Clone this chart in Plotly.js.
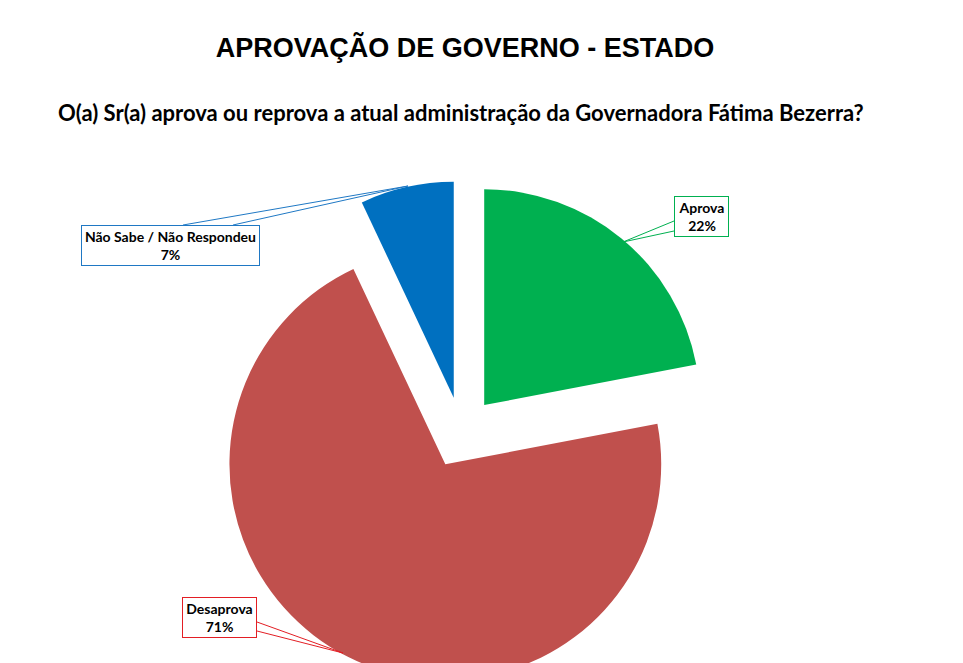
<!DOCTYPE html>
<html>
<head>
<meta charset="utf-8">
<script src="https://cdn.plot.ly/plotly-3.0.1.min.js"></script>
<style>
    html, body { margin: 0; padding: 0; overflow: hidden; background: #fff; }
    #chart { width: 963px; height: 720px; }
</style>
</head>
<body>
<div id="chart"></div>
<script>
// chart data
const categories = ['Aprova', 'Desaprova', 'Não Sabe / Não Respondeu'];
const percentages = [22, 71, 7];

const chartTitle = 'APROVAÇÃO DE GOVERNO - ESTADO';
const chartQuestion = 'O(a) Sr(a) aprova ou reprova a atual administração da Governadora Fátima Bezerra?';

// styling
const W = 963, H = 720;
const sliceColors = ['#00B050', '#C0504D', '#0070C0'];
const calloutColors = ['#00B050', '#E31E24', '#1F78C4'];

// callout geometry in page pixels: box [x0, y0, x1, y1], wedge base points and tip
const callouts = [
    { box: [674, 196, 729, 237], base: [[674, 221], [674, 231]], tip: [623, 242] },
    { box: [182, 597, 257, 638], base: [[257, 622], [257, 631]], tip: [343, 653] },
    { box: [81, 225, 260, 266], base: [[183, 225], [233, 225]], tip: [408, 186] }
];

const px = x => x / W;
const py = y => 1 - y / H;

const trace = {
    type: 'pie',
    labels: categories,
    values: percentages,
    sort: false,
    direction: 'clockwise',
    rotation: 0,
    pull: [0.165, 0.165, 0.165],
    marker: { colors: sliceColors, line: { width: 0 } },
    textinfo: 'none',
    hoverinfo: 'label+percent',
    domain: { x: [px(210), px(713)], y: [py(684), py(181)] }
};

const shapes = [];
const annotations = [];

callouts.forEach((c, i) => {
    const [b1, b2] = c.base;
    shapes.push({
        type: 'path',
        xref: 'paper', yref: 'paper',
        path: `M ${px(b1[0])} ${py(b1[1])} L ${px(c.tip[0])} ${py(c.tip[1])} L ${px(b2[0])} ${py(b2[1])}`,
        line: { color: calloutColors[i], width: 1 },
        fillcolor: 'rgba(0,0,0,0)',
        layer: 'above'
    });
    const [x0, y0, x1, y1] = c.box;
    annotations.push({
        xref: 'paper', yref: 'paper',
        x: px((x0 + x1) / 2), y: py((y0 + y1) / 2),
        xanchor: 'center', yanchor: 'middle',
        width: x1 - x0 - 2, height: y1 - y0 - 2,
        borderpad: 0,
        text: `<b>${categories[i]}</b><br><b>${percentages[i]}%</b>`,
        showarrow: false,
        align: 'center',
        font: { family: 'Lato, sans-serif', size: 14, color: '#000' },
        bgcolor: '#fff',
        bordercolor: calloutColors[i],
        borderwidth: 1
    });
});

annotations.push({
    xref: 'paper', yref: 'paper',
    x: px(461), y: py(112),
    xanchor: 'center', yanchor: 'middle',
    showarrow: false,
    text: `<b>${chartQuestion}</b>`,
    font: { family: 'Lato, sans-serif', size: 22, color: '#000' }
});

const layout = {
    width: W,
    height: H,
    margin: { l: 0, r: 0, t: 0, b: 0 },
    paper_bgcolor: '#fff',
    showlegend: false,
    title: {
        text: `<b>${chartTitle}</b>`,
        x: px(465), xanchor: 'center',
        y: py(48), yanchor: 'middle',
        font: { family: '"Liberation Sans", Arial, sans-serif', size: 27, color: '#000' }
    },
    shapes: shapes,
    annotations: annotations
};

Plotly.newPlot('chart', [trace], layout, { displayModeBar: false });
</script>
</body>
</html>
